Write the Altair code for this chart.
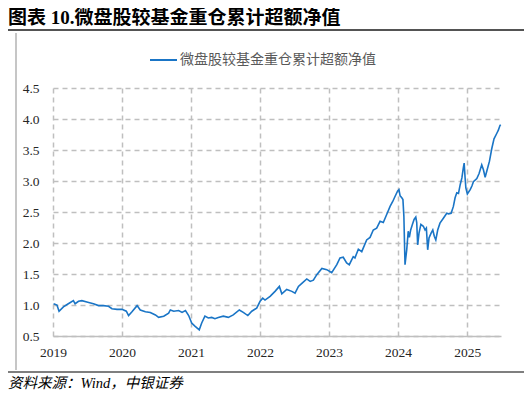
import altair as alt
import pandas as pd

title_text = "图表 10.微盘股较基金重仓累计超额净值"
series_name = "微盘股较基金重仓累计超额净值"
source_text = "资料来源：Wind，中银证券"

dates = [
    "2019-01-04", "2019-01-22", "2019-02-02", "2019-02-25", "2019-03-23", "2019-04-19",
    "2019-04-28", "2019-05-16", "2019-06-03", "2019-06-29", "2019-08-03", "2019-08-30",
    "2019-09-25", "2019-10-22", "2019-11-09", "2019-12-06", "2020-01-01", "2020-01-24",
    "2020-02-05", "2020-02-23", "2020-03-21", "2020-04-07", "2020-05-04", "2020-05-30",
    "2020-06-26", "2020-07-13", "2020-08-09", "2020-09-04", "2020-09-13", "2020-10-01",
    "2020-10-27", "2020-11-14", "2020-12-02", "2020-12-19", "2021-01-04", "2021-01-21",
    "2021-02-13", "2021-02-26", "2021-03-15", "2021-04-02", "2021-04-20", "2021-05-07",
    "2021-05-25", "2021-06-20", "2021-07-17", "2021-08-12", "2021-09-13", "2021-10-04",
    "2021-10-28", "2021-11-18", "2021-12-14", "2022-01-01", "2022-01-15", "2022-01-27",
    "2022-02-23", "2022-03-21", "2022-04-13", "2022-04-26", "2022-05-22", "2022-06-18",
    "2022-07-05", "2022-07-23", "2022-08-10", "2022-09-05", "2022-09-23", "2022-10-10",
    "2022-10-28", "2022-11-24", "2022-12-20", "2023-01-15", "2023-02-11", "2023-02-28",
    "2023-03-17", "2023-04-04", "2023-04-18", "2023-05-09", "2023-05-18", "2023-06-05",
    "2023-06-23", "2023-07-19", "2023-08-06", "2023-08-23", "2023-09-10", "2023-09-28",
    "2023-10-15", "2023-11-02", "2023-11-20", "2023-12-04", "2023-12-16", "2023-12-30",
    "2024-01-06", "2024-01-12", "2024-01-21", "2024-01-27", "2024-02-01", "2024-02-07",
    "2024-02-16", "2024-02-24", "2024-03-01", "2024-03-08", "2024-03-17", "2024-03-26",
    "2024-04-04", "2024-04-09", "2024-04-14", "2024-04-21", "2024-05-01", "2024-05-14",
    "2024-05-23", "2024-05-30", "2024-06-06", "2024-06-13", "2024-06-24", "2024-07-03",
    "2024-07-11", "2024-07-19", "2024-07-29", "2024-08-10", "2024-08-28", "2024-09-15",
    "2024-09-24", "2024-10-08", "2024-10-20", "2024-10-29", "2024-11-07", "2024-11-16",
    "2024-11-25", "2024-12-04", "2024-12-11", "2024-12-16", "2024-12-21", "2024-12-25",
    "2025-01-02", "2025-01-17", "2025-01-26", "2025-02-03", "2025-02-21", "2025-03-05",
    "2025-03-19", "2025-03-28", "2025-04-06", "2025-04-15", "2025-04-29", "2025-05-11",
    "2025-05-23", "2025-06-07", "2025-06-15", "2025-06-23", "2025-06-27",
]
values = [
    1.02, 1.00, 0.90, 0.97, 1.02, 1.07,
    1.02, 1.06, 1.07, 1.05, 1.02, 0.99,
    0.99, 0.98, 0.94, 0.93, 0.93, 0.90,
    0.83, 0.89, 0.99, 0.92, 0.89, 0.88,
    0.84, 0.80, 0.82, 0.87, 0.92, 0.90,
    0.91, 0.88, 0.91, 0.83, 0.71, 0.66,
    0.60, 0.71, 0.82, 0.79, 0.80, 0.78,
    0.80, 0.82, 0.80, 0.84, 0.92, 0.88,
    0.83, 0.90, 0.95, 1.06, 1.11, 1.08,
    1.14, 1.22, 1.30, 1.18, 1.25, 1.22,
    1.19, 1.30, 1.35, 1.42, 1.38, 1.40,
    1.49, 1.59, 1.57, 1.52, 1.65, 1.76,
    1.77, 1.68, 1.65, 1.78, 1.76, 1.90,
    1.86, 2.05, 2.09, 2.21, 2.24, 2.35,
    2.33, 2.46, 2.59, 2.67, 2.75, 2.84,
    2.86, 2.76, 2.73, 2.70, 2.43, 1.65,
    1.89, 2.19, 2.09, 2.21, 2.30, 2.38,
    2.42, 2.33, 1.97, 2.16, 2.30, 2.27,
    2.21, 2.24, 1.89, 2.08, 2.16, 2.21,
    2.11, 2.05, 2.21, 2.32, 2.40, 2.48,
    2.47, 2.48, 2.59, 2.73, 2.81, 2.80,
    2.94, 3.05, 3.20, 3.29, 3.05, 2.89,
    2.79, 2.86, 2.92, 2.99, 3.04, 3.12,
    3.26, 3.18, 3.06, 3.16, 3.32, 3.52,
    3.68, 3.77, 3.82, 3.89, 3.91,
]
y_ticks = [0.5, 1.0, 1.5, 2.0, 2.5, 3.0, 3.5, 4.0, 4.5]
x_years = [2019, 2020, 2021, 2022, 2023, 2024, 2025]

line_color = "#1a75c6"
grid_color = "#bfbfbf"
cjk = "Noto Sans CJK SC"
serif_mix = "Liberation Serif, Noto Sans CJK SC"

df = pd.DataFrame({"date": dates, "value": values})

W, H = 448, 248

line = alt.Chart(df).mark_line(color=line_color, strokeWidth=1.6).encode(
    x=alt.X(
        "date:T",
        scale=alt.Scale(domain=[alt.DateTime(year=2019, month=1, date=1),
                                alt.DateTime(year=2025, month=6, date=29)]),
        axis=alt.Axis(
            values=[alt.DateTime(year=y, month=1, date=1) for y in x_years],
            format="%Y", title=None, grid=True, gridDash=[5, 4], gridColor=grid_color,
            gridWidth=1.5, domainColor=grid_color, domainWidth=1.5, ticks=False,
            labelFont="Liberation Serif", labelFontSize=13.5, labelColor="#262626",
            labelPadding=9, labelFlush=False,
        ),
    ),
    y=alt.Y(
        "value:Q",
        scale=alt.Scale(domain=[0.5, 4.5], nice=False, zero=False),
        axis=alt.Axis(
            values=y_ticks, format=".1f", title=None, grid=True, gridDash=[5, 4],
            gridColor=grid_color, gridWidth=1.5, domain=False, ticks=False,
            labelFont="Liberation Serif", labelFontSize=13.5, labelColor="#262626",
            labelPadding=14,
        ),
    ),
)

one = pd.DataFrame({"k": [0]})

title_mark = alt.Chart(one).mark_text(
    text=title_text, align="left", baseline="middle", fontSize=19,
    fontWeight="bold", font=serif_mix, color="#000000",
).encode(x=alt.value(-45), y=alt.value(-70.5))

top_rule = alt.Chart(one).mark_rule(color="#1a1a1a", strokeWidth=1.5).encode(
    x=alt.value(-45), x2=alt.value(474), y=alt.value(-58))

left_rule = alt.Chart(one).mark_rule(color="#b3b3b3", strokeWidth=1.5).encode(
    x=alt.value(-37), y=alt.value(-55), y2=alt.value(282))

bottom_rule = alt.Chart(one).mark_rule(color="#555555", strokeWidth=1.5).encode(
    x=alt.value(-45), x2=alt.value(474), y=alt.value(284))

legend_line = alt.Chart(one).mark_rule(color=line_color, strokeWidth=2).encode(
    x=alt.value(97), x2=alt.value(124), y=alt.value(-28))

legend_text = alt.Chart(one).mark_text(
    text=series_name, align="left", baseline="middle", fontSize=14,
    font=cjk, color="#595959",
).encode(x=alt.value(127), y=alt.value(-28))

source_mark = alt.Chart(one).mark_text(
    text=source_text, align="left", baseline="middle", fontSize=14.5,
    fontStyle="italic", font=serif_mix, color="#000000",
).encode(x=alt.value(-45), y=alt.value(295.5))

chart = alt.layer(
    line, title_mark, top_rule, left_rule, bottom_rule, legend_line, legend_text, source_mark
).properties(
    width=W, height=H,
    autosize=alt.AutoSizeParams(type="none"),
    padding={"left": 45, "top": 80, "right": 23, "bottom": 56},
    background="white",
).configure_view(stroke=None)

chart.save("out.html", embed_options={"renderer": "svg", "actions": False})
